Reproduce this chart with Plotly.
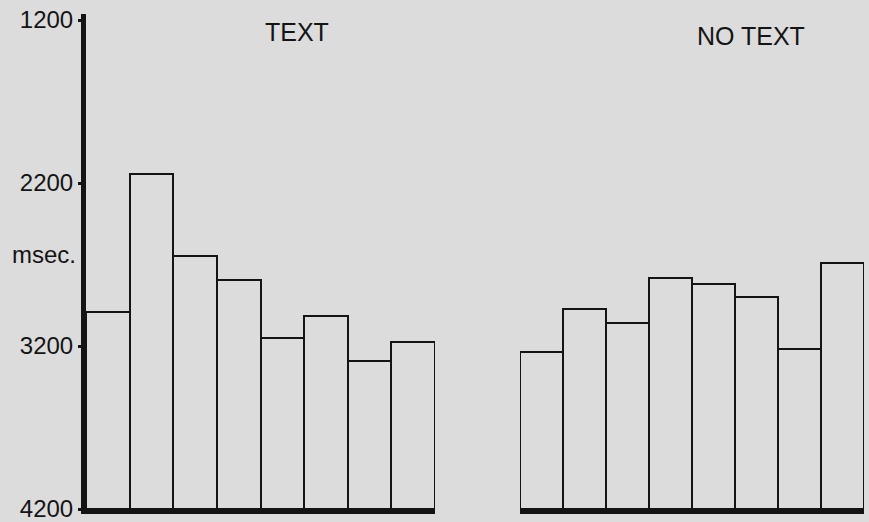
import plotly.graph_objects as go

conditions = [str(i) for i in range(1, 9)]
text_ms = [2990, 2145, 2650, 2795, 3150, 3015, 3290, 3175]
notext_ms = [3235, 2975, 3060, 2785, 2820, 2900, 3220, 2690]
y_ticks = [1200, 2200, 3200, 4200]
BASE = 4200

W, H = 869, 522
ML, MR, MT, MB = 0, 0, 14, 13
BG = "#dcdcdc"
INK = "#141414"
FONT = "Liberation Sans, Arial, sans-serif"

fig = go.Figure()
fig.add_trace(go.Bar(
    x=conditions, y=[v - BASE for v in text_ms], base=BASE,
    marker=dict(color=BG, line=dict(color=INK, width=2)),
    xaxis="x", yaxis="y", showlegend=False,
    customdata=text_ms, hovertemplate="%{customdata} msec<extra>TEXT</extra>"))
fig.add_trace(go.Bar(
    x=conditions, y=[v - BASE for v in notext_ms], base=BASE,
    marker=dict(color=BG, line=dict(color=INK, width=2)),
    xaxis="x2", yaxis="y2", showlegend=False,
    customdata=notext_ms, hovertemplate="%{customdata} msec<extra>NO TEXT</extra>"))

pw = W - ML - MR
ph = H - MT - MB
def px(x):
    return (x - ML) / pw
def py(y):
    return (H - MB - y) / ph

yr = [BASE, 1163]
fig.update_layout(
    width=W, height=H,
    margin=dict(l=ML, r=MR, t=MT, b=MB, autoexpand=False),
    paper_bgcolor=BG, plot_bgcolor=BG,
    bargap=0, font=dict(family=FONT, color=INK, size=24),
    xaxis=dict(domain=[px(86), px(435)], range=[-0.5, 7.5], showticklabels=False,
               ticks="", showgrid=False, zeroline=False, showline=True,
               linecolor=INK, linewidth=5, anchor="y", fixedrange=True),
    xaxis2=dict(domain=[px(520), px(864)], range=[-0.5, 7.5], showticklabels=False,
                ticks="", showgrid=False, zeroline=False, showline=True,
                linecolor=INK, linewidth=5, anchor="y2", fixedrange=True),
    yaxis=dict(range=yr, tickvals=y_ticks, ticktext=[str(t) for t in y_ticks],
               ticks="outside", ticklen=3, tickwidth=3, tickcolor=INK,
               showgrid=False, zeroline=False, showline=True, linecolor=INK,
               linewidth=5, anchor="x", automargin=False,
               ticklabeloverflow="allow",
               tickfont=dict(size=24, family=FONT, color=INK)),
    yaxis2=dict(range=yr, showticklabels=False, ticks="", showgrid=False,
                zeroline=False, showline=False, anchor="x2", matches="y"),
    annotations=[
        dict(text="TEXT", x=px(297), y=py(32), xref="paper", yref="paper",
             xanchor="center", yanchor="middle",
             showarrow=False, font=dict(size=25, family=FONT, color=INK)),
        dict(text="NO TEXT", x=px(751), y=py(36), xref="paper", yref="paper",
             xanchor="center", yanchor="middle",
             showarrow=False, font=dict(size=25, family=FONT, color=INK)),
        dict(text="msec.", x=px(44), y=py(254), xref="paper", yref="paper",
             xanchor="center", yanchor="middle",
             showarrow=False, font=dict(size=24, family=FONT, color=INK)),
    ],
)

fig.write_html(
    "out.html",
    config={"displayModeBar": False},
    post_script="document.body.style.margin='0';document.body.style.overflow='hidden';"
                "document.body.style.background='" + BG + "';",
)
